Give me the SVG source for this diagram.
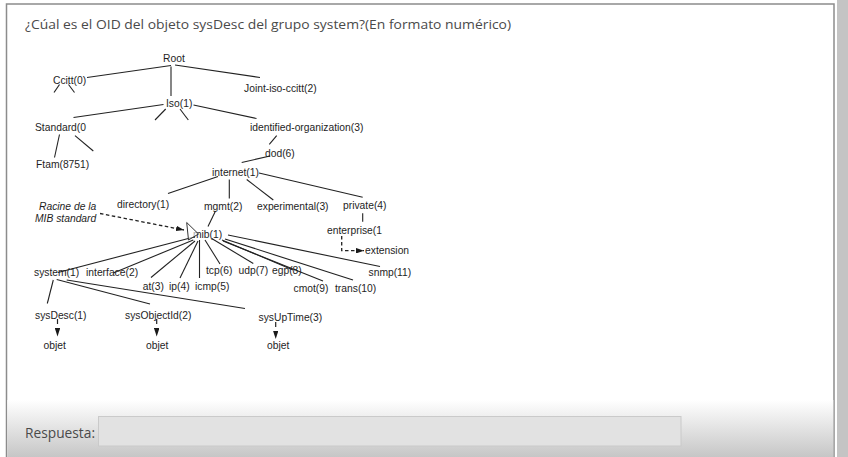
<svg xmlns="http://www.w3.org/2000/svg" width="848" height="457" viewBox="0 0 848 457">
<defs>
<linearGradient id="bottomGrad" x1="0" y1="0" x2="0" y2="1">
<stop offset="0" stop-color="#ffffff"/>
<stop offset="0.3" stop-color="#eeeeee"/>
<stop offset="1" stop-color="#c6c6c6"/>
</linearGradient>
<marker id="arr" viewBox="0 0 10 10" preserveAspectRatio="none" refX="10" refY="5" markerWidth="8" markerHeight="5.5" markerUnits="userSpaceOnUse" orient="auto">
<path d="M0,0 L10,5 L0,10 Z" fill="#1a1a1a"/>
</marker>
<marker id="arrBig" viewBox="0 0 10 10" preserveAspectRatio="none" refX="10" refY="5" markerWidth="8.5" markerHeight="5.5" markerUnits="userSpaceOnUse" orient="auto">
<path d="M0,0 L10,5 L0,10 Z" fill="#1a1a1a"/>
</marker>
<style>
.t{font-family:"Liberation Sans",Arial,sans-serif;font-size:10.3px;fill:#1e1e1e}
.it{font-style:italic}
.ui{font-family:"Open Sans","Noto Sans",sans-serif;fill:#4a4a4a}
.c line,.c polyline{stroke:#222;stroke-width:1.1;fill:none}
.c .d{stroke-dasharray:3.5,2.5;stroke-width:1.3}
.c .o{stroke-dasharray:5,30;stroke-width:1.2}
</style>
</defs>
<rect x="0" y="0" width="848" height="457" fill="#ffffff"/>
<rect x="837" y="0" width="11" height="457" fill="#c4c4c4"/>
<rect x="6.5" y="4" width="827.5" height="470" fill="#ffffff" stroke="#8c8c8c" stroke-width="1.5"/>
<rect x="7.3" y="400" width="826" height="57" fill="url(#bottomGrad)"/>
<text class="ui" x="25" y="28.5" font-size="13.3" textLength="486" lengthAdjust="spacingAndGlyphs">¿Cúal es el OID del objeto sysDesc del grupo system?(En formato numérico)</text>
<text class="ui" x="25" y="437.5" font-size="14" textLength="70" lengthAdjust="spacingAndGlyphs">Respuesta:</text>
<rect x="98.5" y="416.5" width="582.5" height="29.5" fill="#e2e2e2" stroke="#cacaca" stroke-width="1"/>

<g id="connectors" class="c">
<line x1="171" y1="65.5" x2="87" y2="77.5"/>
<line x1="171" y1="66.5" x2="171" y2="96"/>
<line x1="175" y1="65" x2="260" y2="77.5"/>
<line x1="59.5" y1="84.5" x2="54" y2="92.5"/>
<line x1="68.5" y1="84.5" x2="74.5" y2="92.5"/>
<line x1="163.5" y1="104.5" x2="73.5" y2="117.5"/>
<line x1="165.7" y1="109" x2="155" y2="120"/>
<line x1="180" y1="109" x2="188.3" y2="120"/>
<line x1="193.5" y1="105" x2="256.5" y2="118.5"/>
<line x1="59.5" y1="134.5" x2="54.5" y2="157.5"/>
<line x1="75" y1="135.7" x2="93.3" y2="151"/>
<line x1="276.7" y1="135.7" x2="269.3" y2="144.3"/>
<line x1="270" y1="156" x2="241.7" y2="162.5"/>
<line x1="218" y1="176.5" x2="168" y2="193.5"/>
<line x1="229.3" y1="179.5" x2="229.3" y2="198.5"/>
<line x1="246.7" y1="179.5" x2="273.3" y2="200"/>
<line x1="259" y1="173" x2="362.7" y2="197.3"/>
<line x1="362.7" y1="213.3" x2="362.7" y2="221.7"/>
<line x1="215.5" y1="211" x2="208" y2="226.5"/>
<line x1="195" y1="236.7" x2="58" y2="272.5"/>
<line x1="193.3" y1="240" x2="113.3" y2="273"/>
<line x1="195" y1="241" x2="151" y2="277.5"/>
<line x1="198" y1="241" x2="180" y2="278"/>
<line x1="199.5" y1="240" x2="199.5" y2="278"/>
<line x1="205" y1="240" x2="220" y2="264"/>
<line x1="211.7" y1="238.5" x2="253.3" y2="263.5"/>
<line x1="222" y1="240" x2="293" y2="270"/>
<line x1="223" y1="241" x2="323" y2="281"/>
<line x1="225" y1="239" x2="353" y2="280"/>
<line x1="228" y1="235" x2="380" y2="266.5"/>
<line x1="53.3" y1="280" x2="47.3" y2="303.5"/>
<line x1="56.7" y1="279.5" x2="150" y2="304"/>
<line x1="66.7" y1="280" x2="245" y2="308.5"/>
<line class="d" x1="100" y1="213.5" x2="184" y2="230" marker-end="url(#arr)"/>
<polyline class="d" points="341.7,236 341.7,250.7 364,250.7" marker-end="url(#arr)"/>
<line class="o" x1="57.5" y1="319" x2="57.5" y2="336.5" marker-end="url(#arrBig)"/>
<line class="o" x1="156.7" y1="319" x2="156.7" y2="336.5" marker-end="url(#arrBig)"/>
<line class="o" x1="275.7" y1="322" x2="275.7" y2="339" marker-end="url(#arrBig)"/>
</g>

<g id="n-root"><text class="t" x="163" y="61.6">Root</text></g>
<g id="n-ccitt"><text class="t" x="53" y="83.6">Ccitt(0)</text></g>
<g id="n-joint"><text class="t" x="244" y="92">Joint-iso-ccitt(2)</text></g>
<g id="n-iso"><text class="t" x="166" y="107">Iso(1)</text></g>
<g id="n-standard"><text class="t" x="35" y="131.3">Standard(0</text></g>
<g id="n-identified"><text class="t" x="250" y="131.3">identified-organization(3)</text></g>
<g id="n-ftam"><text class="t" x="36" y="167.6">Ftam(8751)</text></g>
<g id="n-dod"><text class="t" x="265" y="157">dod(6)</text></g>
<g id="n-internet"><text class="t" x="212" y="176">internet(1)</text></g>
<g id="n-directory"><text class="t" x="117" y="207.6">directory(1)</text></g>
<g id="n-mgmt"><text class="t" x="204" y="210.3">mgmt(2)</text></g>
<g id="n-experimental"><text class="t" x="257" y="210.3">experimental(3)</text></g>
<g id="n-private"><text class="t" x="343" y="208.6">private(4)</text></g>
<g id="n-enterprise"><text class="t" x="327" y="234.3">enterprise(1</text></g>
<g id="n-extension"><text class="t" x="365" y="254.3">extension</text></g>
<g id="n-racine"><text class="t it" x="39" y="209.6">Racine de la</text><text class="t it" x="35" y="222">MIB standard</text></g>
<g id="n-mib"><text class="t" x="193" y="238">mib(1)</text><polygon points="186.7,222.5 188.5,240 198.5,234" fill="#ffffff" fill-opacity="0.6" stroke="#333" stroke-width="1"/></g>
<g id="n-system"><text class="t" x="34" y="276.3">system(1)</text></g>
<g id="n-interface"><text class="t" x="86" y="276.3">interface(2)</text></g>
<g id="n-at"><text class="t" x="142.7" y="290.3">at(3)</text></g>
<g id="n-ip"><text class="t" x="169" y="290.3">ip(4)</text></g>
<g id="n-icmp"><text class="t" x="195" y="290.3">icmp(5)</text></g>
<g id="n-tcp"><text class="t" x="206" y="274">tcp(6)</text></g>
<g id="n-udp"><text class="t" x="238.5" y="274">udp(7)</text></g>
<g id="n-egp"><text class="t" x="272" y="274">egp(8)</text></g>
<g id="n-cmot"><text class="t" x="293.5" y="292">cmot(9)</text></g>
<g id="n-trans"><text class="t" x="335" y="292">trans(10)</text></g>
<g id="n-snmp"><text class="t" x="368.5" y="276">snmp(11)</text></g>
<g id="n-sysdesc"><text class="t" x="35" y="318.5">sysDesc(1)</text></g>
<g id="n-sysobjectid"><text class="t" x="125" y="318.5">sysObjectId(2)</text></g>
<g id="n-sysuptime"><text class="t" x="258.5" y="321">sysUpTime(3)</text></g>
<g id="n-objet1"><text class="t" x="43.5" y="348.5">objet</text></g>
<g id="n-objet2"><text class="t" x="146" y="348.5">objet</text></g>
<g id="n-objet3"><text class="t" x="267" y="348.5">objet</text></g>
</svg>
